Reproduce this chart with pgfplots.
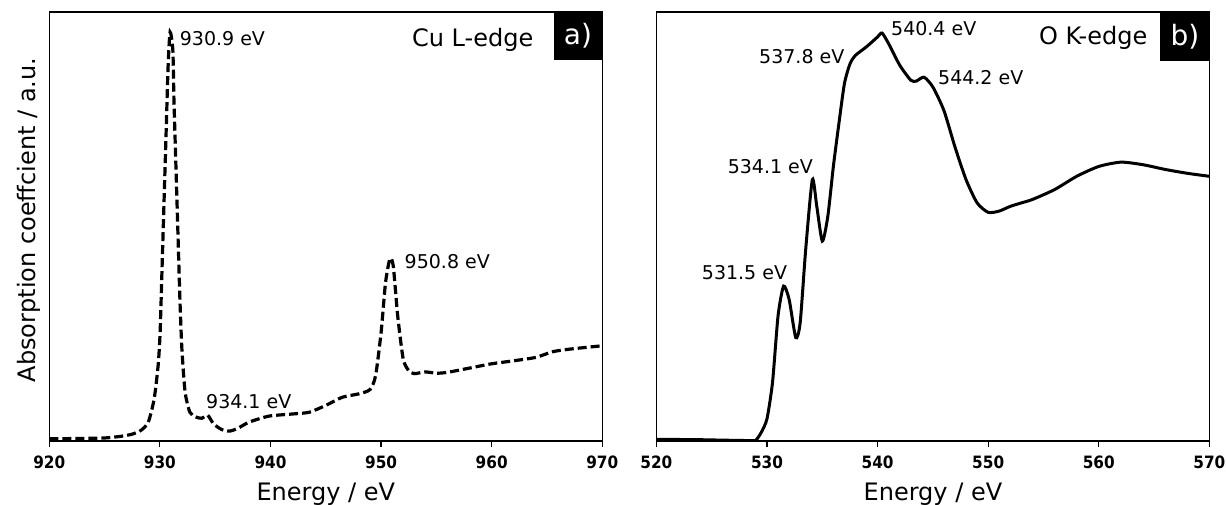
\documentclass[border=0pt]{standalone}
\usepackage{pgfplots}
\pgfplotsset{compat=1.18}
\usepackage{fontspec}
\setmainfont{DejaVu Sans}
\newfontfamily\tickfont{DejaVu Sans Condensed}

% Cu L-edge (dashed) and O K-edge (solid), intensity as fraction of axis height
\pgfplotstableread{
x y
920 0.005
923 0.006
925 0.007
926.5 0.011
927.5 0.016
928.3 0.025
928.95 0.044
929.48 0.098
929.84 0.176
930.02 0.253
930.20 0.408
930.38 0.563
930.56 0.717
930.74 0.872
930.92 0.953
931.17 0.911
931.27 0.795
931.45 0.640
931.63 0.485
931.81 0.330
931.99 0.214
932.28 0.114
932.71 0.067
933.24 0.056
933.78 0.053
934.32 0.060
934.85 0.040
935.57 0.027
936.28 0.023
937.0 0.029
938.07 0.044
939.86 0.058
942 0.063
943.5 0.067
945 0.083
946.5 0.102
948 0.110
949 0.120
949.5 0.152
950 0.253
950.4 0.369
950.8 0.425
951.1 0.408
951.5 0.292
952 0.191
952.5 0.164
953 0.157
954 0.161
955 0.158
956 0.160
958 0.170
960 0.180
962 0.187
964 0.195
965.5 0.208
967 0.214
970 0.222
}\cuedge

\pgfplotstableread{
x y
520 0.004
524 0.003
526 0.002
528.5 0.001
529 0.002
529.5 0.021
530 0.052
530.5 0.137
531 0.292
531.5 0.361
532 0.330
532.6 0.241
533 0.276
533.5 0.447
534.1 0.609
534.5 0.547
535 0.466
535.5 0.524
536 0.640
536.5 0.740
537 0.833
537.5 0.879
538 0.899
539 0.919
540 0.942
540.4 0.951
541 0.926
542 0.876
543 0.841
543.5 0.839
544.2 0.848
545 0.825
546 0.770
547 0.685
548 0.609
549 0.555
550 0.533
551 0.536
552 0.547
553 0.555
554 0.563
556 0.586
558 0.617
560 0.640
562 0.650
564 0.644
566 0.633
568 0.624
570 0.617
}\okedge

\tikzset{ann/.style={font=\fontsize{9.5}{11}\selectfont, inner sep=0pt}}
\pgfplotsset{
  xas/.style={
    width=276.5pt, height=214.5pt, scale only axis,
    ymin=0, ymax=1, ytick=\empty,
    xtick distance=10, xtick pos=bottom, tick align=outside,
    major tick length=3pt,
    axis line style={line width=0.6pt},
    every tick/.style={black, line width=0.6pt},
    /pgf/number format/assume math mode=true,
    xticklabel style={font=\tickfont\bfseries\fontsize{8.5}{10}\selectfont, yshift=-1pt},
    label style={font=\fontsize{12}{14}\selectfont},
    xlabel style={at={(axis description cs:0.5,-0.125)}, anchor=center},
    xlabel={Energy / eV},
  },
}

\begin{document}
\begin{tikzpicture}
\begin{axis}[xas, xmin=920, xmax=970,
  ylabel={Absorption coeffcient / a.u.},
  ylabel style={at={(axis description cs:-0.037,0.515)}, anchor=center}]
\addplot[black, line width=1.6pt, dash pattern=on 4.5pt off 2pt, smooth, tension=0.4] table[x=x,y=y] {\cuedge};
\node[ann, anchor=west] at (axis cs:931.77,0.939) {930.9 eV};
\node[ann, anchor=west] at (axis cs:934.15,0.092) {934.1 eV};
\node[ann, anchor=west] at (axis cs:952.1,0.418) {950.8 eV};
\node[anchor=east, inner sep=0pt, font=\fontsize{12}{14}\selectfont] at (axis cs:963.8,0.935) {Cu L-edge};
\fill[black] (axis cs:965.6,0.888) rectangle (axis cs:970,1);
\node[white, font=\fontsize{14}{16}\selectfont] at (axis cs:967.8,0.944) {a)};
\end{axis}
\begin{axis}[xas, xshift=303.55pt, xmin=520, xmax=570]
\addplot[black, line width=1.5pt, smooth, tension=0.4] table[x=x,y=y] {\okedge};
\node[ann, anchor=east] at (axis cs:531.85,0.392) {531.5 eV};
\node[ann, anchor=east] at (axis cs:534.19,0.64) {534.1 eV};
\node[ann, anchor=east] at (axis cs:537.03,0.897) {537.8 eV};
\node[ann, anchor=west] at (axis cs:541.19,0.961) {540.4 eV};
\node[ann, anchor=west] at (axis cs:545.44,0.847) {544.2 eV};
\node[anchor=east, inner sep=0pt, font=\fontsize{12}{14}\selectfont] at (axis cs:564.43,0.94) {O K-edge};
\fill[black] (axis cs:565.55,0.886) rectangle (axis cs:570,1);
\node[white, font=\fontsize{14}{16}\selectfont] at (axis cs:567.78,0.943) {b)};
\end{axis}
\pgfresetboundingbox
\path (-24.65pt,-31.5pt) rectangle (588.35pt,220.5pt);
\end{tikzpicture}
\end{document}
